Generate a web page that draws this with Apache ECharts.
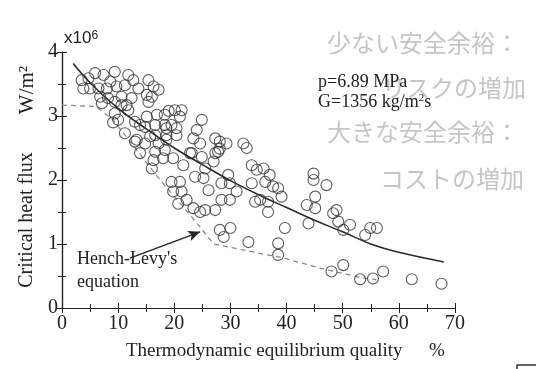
<!DOCTYPE html>
<html>
<head>
<meta charset="utf-8">
<script src="https://cdn.jsdelivr.net/npm/echarts@6/dist/echarts.min.js"></script>
<style>
  html, body { margin: 0; padding: 0; background: #fff; }
  #chart { width: 536px; height: 369px; }
</style>
</head>
<body>
<div id="chart"></div>
<script>
// measured CHF points [quality %, flux x10^6 W/m2]
const measuredCHF = [
  [3.5, 3.56], [4.7, 3.59], [5.9, 3.67], [7.4, 3.64], [9.4, 3.69], [8.6, 3.54],
  [5.0, 3.43], [3.8, 3.43], [6.5, 3.43], [8.0, 3.43], [9.7, 3.46], [11.2, 3.48],
  [11.8, 3.64], [12.7, 3.56], [13.6, 3.43], [15.4, 3.56], [16.3, 3.46], [17.2, 3.41],
  [15.1, 3.33], [16.0, 3.30], [15.4, 3.22], [6.8, 3.30], [8.2, 3.28], [7.1, 3.20],
  [9.4, 3.22], [10.6, 3.30], [12.4, 3.28], [10.6, 3.17], [11.5, 3.17], [9.4, 3.04],
  [11.8, 3.09], [10.0, 2.94], [9.1, 2.90], [11.2, 2.73], [13.0, 2.91], [13.9, 2.86],
  [15.1, 2.99], [16.9, 3.02], [18.3, 3.02], [19.0, 3.08], [20.1, 3.09], [21.3, 3.09],
  [21.0, 2.99], [14.8, 2.83], [16.6, 2.86], [18.3, 2.86], [19.5, 2.86], [16.6, 2.70],
  [18.6, 2.70], [20.4, 2.70], [13.0, 2.60], [14.8, 2.57], [17.2, 2.57], [24.0, 2.78],
  [24.6, 2.57], [24.9, 2.94], [23.4, 2.65], [23.1, 2.42], [24.9, 2.36], [27.3, 2.65],
  [28.1, 2.60], [29.3, 2.57], [28.1, 2.49], [27.3, 2.42], [27.0, 2.29], [32.3, 2.57],
  [32.9, 2.50], [25.5, 2.18], [25.2, 2.03], [23.7, 2.05], [33.8, 2.23], [34.7, 2.16],
  [35.9, 2.18], [37.0, 2.08], [36.2, 1.97], [37.6, 1.90], [38.5, 1.87], [33.8, 1.95],
  [29.6, 2.08], [28.4, 1.95], [29.9, 1.95], [44.8, 2.10], [44.8, 2.00], [47.1, 1.92],
  [13.3, 2.63], [15.7, 2.68], [18.6, 2.63], [18.6, 2.81], [20.4, 2.81], [27.8, 2.44],
  [13.9, 2.42], [16.6, 2.44], [18.3, 2.47], [22.8, 2.42], [16.3, 2.31], [18.0, 2.34],
  [19.8, 2.34], [16.0, 2.18], [21.6, 2.23], [26.1, 1.84], [28.4, 1.69], [31.1, 1.82],
  [29.9, 1.69], [19.5, 1.97], [21.0, 1.97], [19.8, 1.82], [21.3, 1.82], [22.2, 1.69],
  [20.7, 1.63], [23.4, 1.56], [24.6, 1.50], [25.5, 1.53], [27.3, 1.53], [34.4, 1.66],
  [28.1, 1.22], [30.0, 1.25], [28.8, 1.11], [33.2, 1.03],
  [39.1, 1.74], [35.3, 1.69], [36.7, 1.66], [36.7, 1.50], [45.1, 1.74], [43.6, 1.61],
  [45.1, 1.56], [43.9, 1.32], [39.7, 1.25], [48.9, 1.53], [48.3, 1.48], [49.2, 1.35],
  [50.1, 1.22], [51.3, 1.30], [54.0, 1.14], [54.9, 1.25], [56.1, 1.25], [38.5, 1.01],
  [38.5, 0.83], [48.0, 0.57], [50.1, 0.67], [53.1, 0.45], [55.4, 0.46], [57.2, 0.57],
  [62.3, 0.45], [67.6, 0.38]
]

// best-fit curve (solid)
const fitQuality = [2, 5, 10, 15, 20, 25, 30, 35, 40, 45, 50, 55, 60, 68]
const fitFlux = [3.82, 3.52, 3.12, 2.8, 2.5, 2.24, 1.99, 1.77, 1.57, 1.37, 1.19, 1.0, 0.87, 0.72]

// Hench-Levy equation (dashed)
const hlQuality = [0, 6, 9, 17.3, 24, 27, 30.5, 36, 39, 47, 53, 56]
const hlFlux = [3.17, 3.15, 2.95, 2.02, 1.33, 1.0, 0.94, 0.84, 0.79, 0.6, 0.48, 0.44]

// arrow pointing at the Hench-Levy line
const arrowFrom = [12.1, 0.78]
const arrowTo = [24.6, 1.19]

const xTicks = { min: 0, max: 70, step: 10 }
const yTicks = { min: 0, max: 4, step: 1 }

const serif = 'Liberation Serif'
const sans = 'Liberation Sans'
const jp = 'Noto Sans CJK JP'
const ink = '#222'
const faint = 'rgba(150,150,150,0.55)'

const chart = echarts.init(document.getElementById('chart'))

function axisBase(extra) {
  return Object.assign({
    type: 'value',
    axisLine: { show: true, lineStyle: { color: ink, width: 1.2 } },
    axisTick: { show: true, inside: true, length: 5, lineStyle: { color: ink } },
    minorTick: { show: true, splitNumber: 2, length: 4, lineStyle: { color: ink } },
    splitLine: { show: false },
    minorSplitLine: { show: false }
  }, extra)
}

const option = {
  animation: false,
  backgroundColor: '#fff',
  grid: { left: 62, right: 81, top: 52, bottom: 61 },
  xAxis: [
    axisBase({
      position: 'bottom', min: xTicks.min, max: xTicks.max, interval: xTicks.step,
      axisLabel: { fontFamily: serif, fontSize: 20, color: ink, margin: 6 }
    }),
    axisBase({
      position: 'top', min: xTicks.min, max: xTicks.max, interval: xTicks.step,
      axisLabel: { show: false }
    })
  ],
  yAxis: [
    axisBase({
      position: 'left', min: yTicks.min, max: yTicks.max, interval: yTicks.step,
      axisLabel: { fontFamily: serif, fontSize: 20, color: ink, margin: 4 }
    }),
    axisBase({
      position: 'right', min: yTicks.min, max: yTicks.max, interval: yTicks.step,
      axisLabel: { show: false }
    })
  ],
  series: [
    {
      type: 'line',
      data: hlQuality.map((q, i) => [q, hlFlux[i]]),
      showSymbol: false,
      lineStyle: { color: '#8a8a8a', width: 1.3, type: [5, 4] },
      z: 1,
      markLine: {
        silent: true,
        symbol: ['none', 'arrow'],
        symbolSize: [8, 12],
        label: { show: false },
        lineStyle: { color: ink, width: 1.3, type: 'solid' },
        data: [[{ coord: arrowFrom }, { coord: arrowTo }]]
      }
    },
    {
      type: 'line',
      data: fitQuality.map((q, i) => [q, fitFlux[i]]),
      showSymbol: false,
      smooth: 0.4,
      lineStyle: { color: '#2a2a2a', width: 1.6 },
      z: 2
    },
    {
      type: 'scatter',
      data: measuredCHF,
      symbol: 'circle',
      symbolSize: 11,
      itemStyle: { color: 'rgba(255,255,255,0)', borderColor: '#333', borderWidth: 1.1 },
      z: 3
    }
  ],
  graphic: [
    // faint Japanese overlay
    { type: 'text', left: 327, top: 31, z: 10, style: { text: '少ない安全余裕：', font: '24px "' + jp + '"', fill: faint } },
    { type: 'text', left: 382, top: 76, z: 10, style: { text: 'リスクの増加', font: '24px "' + jp + '"', fill: faint } },
    { type: 'text', left: 327, top: 120, z: 10, style: { text: '大きな安全余裕：', font: '24px "' + jp + '"', fill: faint } },
    { type: 'text', left: 380, top: 167, z: 10, style: { text: 'コストの増加', font: '24px "' + jp + '"', fill: faint } },
    // condition annotation
    { type: 'text', left: 318, top: 73, z: 20, style: { text: 'p=6.89 MPa', font: '18px "' + serif + '"', fill: ink } },
    { type: 'text', left: 318, top: 93, z: 20, style: {
      text: 'G=1356 kg/m{s|2}s', font: '18px "' + serif + '"', fill: ink,
      rich: { s: { fontSize: 11, fontFamily: serif, verticalAlign: 'top', fill: ink } } } },
    // Hench-Levy label
    { type: 'text', left: 77, top: 250, z: 20, style: { text: "Hench-Levy's", font: '18px "' + serif + '"', fill: ink } },
    { type: 'text', left: 77, top: 273, z: 20, style: { text: 'equation', font: '18px "' + serif + '"', fill: ink } },
    // y multiplier
    { type: 'text', left: 64, top: 30, z: 20, style: {
      text: 'x10{s|6}', font: '17px "' + sans + '"', fill: ink,
      rich: { s: { fontSize: 12, fontFamily: sans, verticalAlign: 'top', fill: ink } } } },
    // axis titles
    { type: 'text', x: 27, y: 220, rotation: Math.PI / 2, z: 20, style: {
      text: 'Critical heat flux', font: '20px "' + serif + '"', fill: ink, align: 'center', verticalAlign: 'middle' } },
    { type: 'text', x: 27, y: 90, rotation: Math.PI / 2, z: 20, style: {
      text: 'W/m²', font: '21px "' + serif + '"', fill: ink, align: 'center', verticalAlign: 'middle' } },
    { type: 'text', left: 126, top: 342, z: 20, style: { text: 'Thermodynamic equilibrium quality', font: '19px "' + serif + '"', fill: ink } },
    { type: 'text', left: 429, top: 342, z: 20, style: { text: '%', font: '19px "' + serif + '"', fill: ink } },
    // cropped frame corner at the bottom right
    { type: 'polyline', z: 20, shape: { points: [[517, 369], [517, 365], [536, 365]] }, style: { stroke: '#333', lineWidth: 1.5, fill: null } }
  ]
}

chart.setOption(option)
</script>
</body>
</html>
